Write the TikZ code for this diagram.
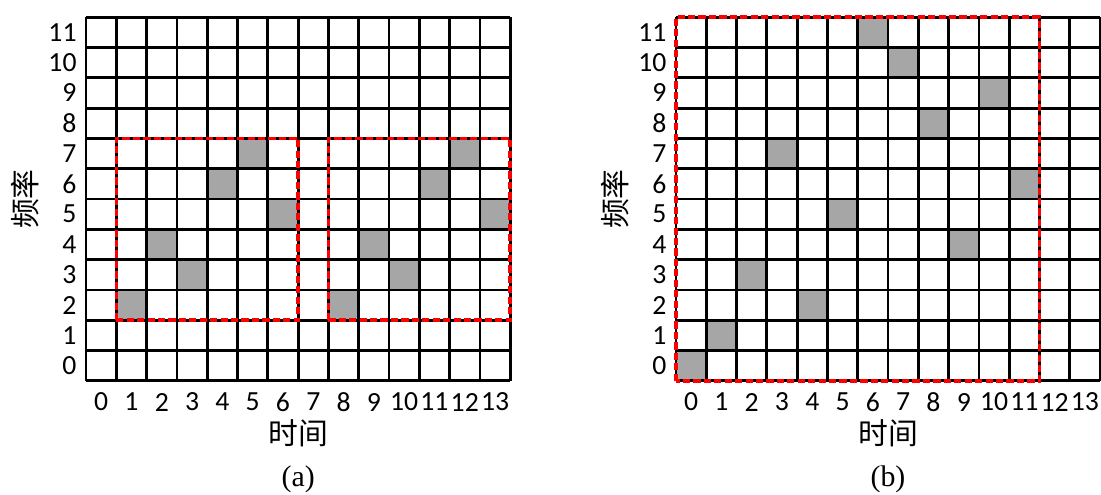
\documentclass[tikz,border=0pt]{standalone}
\usepackage{fontspec}
\setmainfont{Carlito}
\newfontfamily\cjk{Noto Sans CJK SC}
\newfontfamily\capfont{Liberation Serif}
\usetikzlibrary{positioning}

\begin{document}
\begin{tikzpicture}[x=0.5cm,y=0.5cm,
  hop/.style={fill=black!35},
  gridline/.style={line width=1.3pt,step=0.5cm},
  window/.style={red,line width=1.7pt,dash pattern=on 3.4pt off 1.5pt},
  num/.style={font=\fontsize{13}{13}\selectfont,inner sep=0pt},
  axis/.style={font=\cjk\fontsize{14}{14}\selectfont,inner sep=0pt},
  subcap/.style={font=\capfont\fontsize{14}{14}\selectfont,inner sep=0pt}]
  \useasboundingbox (-2.84,-3.76) rectangle (33.50,12.57);

  % (a) two windows of 6 slots
  \begin{scope}
    \foreach \c/\r in {1/2,2/4,3/3,4/6,5/7,6/5,8/2,9/4,10/3,11/6,12/7,13/5}
      \fill[hop] (\c,\r) rectangle ++(1,1);
    \draw[gridline] (0,0) grid (14,12);
    \draw[window] (1,2) rectangle (7,8);
    \draw[window] (8,2) rectangle (14,8);
    \foreach \r in {0,...,11}
      \node[num,anchor=east] (a-r\r) at (-0.3,\r+0.5) {\r};
    \foreach \c in {0,...,13}
      \node[num] (a-c\c) at (\c+0.5,-0.7) {\c};
    \node[axis] (a-time) at (7,-1.72) {时间};
    \node[axis,rotate=90] (a-freq) at (-2.0,6) {频率};
    \node[subcap] (a-cap) at (7,-3.25) {(a)};
  \end{scope}

  % (b) one window of 12 slots
  \begin{scope}[shift={(19.47,0)}]
    \foreach \c/\r in {0/0,1/1,2/3,3/7,4/2,5/5,6/11,7/10,8/8,9/4,10/9,11/6}
      \fill[hop] (\c,\r) rectangle ++(1,1);
    \draw[gridline] (0,0) grid (14,12);
    \draw[window] (0,0) rectangle (12,12);
    \foreach \r in {0,...,11}
      \node[num,anchor=east] (b-r\r) at (-0.3,\r+0.5) {\r};
    \foreach \c in {0,...,13}
      \node[num] (b-c\c) at (\c+0.5,-0.7) {\c};
    \node[axis] (b-time) at (7,-1.72) {时间};
    \node[axis,rotate=90] (b-freq) at (-2.0,6) {频率};
    \node[subcap] (b-cap) at (7,-3.25) {(b)};
  \end{scope}
\end{tikzpicture}
\end{document}
